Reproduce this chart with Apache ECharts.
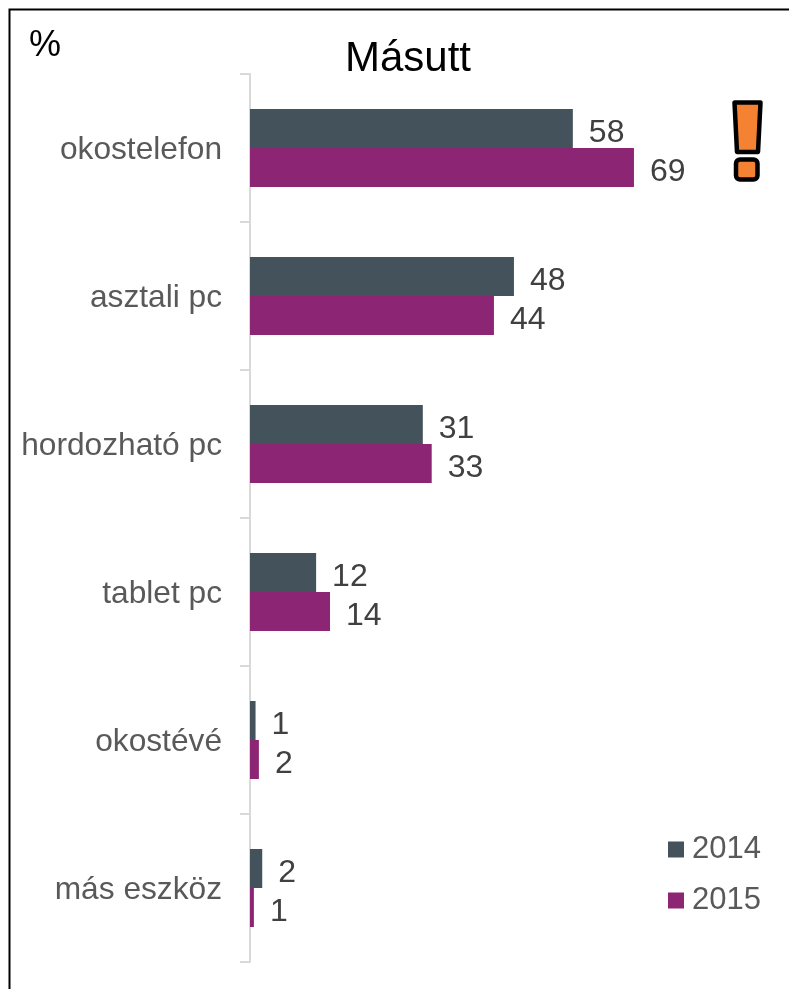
<!DOCTYPE html>
<html>
<head>
<meta charset="utf-8">
<style>
html, body { margin: 0; padding: 0; background: #fff; }
#main { width: 789px; height: 989px; }
</style>
<script src="https://cdn.jsdelivr.net/npm/echarts@6/dist/echarts.min.js"></script>
</head>
<body>
<div id="main"></div>
<script>
// adatok (a feliratok kerekített értéket mutatnak)
var categories = ['okostelefon', 'asztali pc', 'hordozható pc', 'tablet pc', 'okostévé', 'más eszköz'];
var values2014 = [58.1, 47.5, 31.1, 11.9, 1.0, 2.2];
var values2015 = [69.1, 43.9, 32.7, 14.4, 1.6, 0.7];

var chart = echarts.init(document.getElementById('main'));
var fontName = '"Liberation Sans", Arial, sans-serif';

function makeSeries(name, data, color) {
    return {
        name: name,
        type: 'bar',
        data: data,
        barWidth: 39,
        barGap: 0,
        itemStyle: { color: color },
        label: {
            show: true,
            position: 'right',
            distance: 16,
            offset: [0, 5],
            formatter: function (p) { return Math.round(p.value); },
            fontFamily: fontName,
            fontSize: 32,
            color: '#404040'
        }
    };
}

var option = {
    animation: false,
    backgroundColor: '#fff',
    title: {
        text: 'Másutt',
        left: 403,
        top: 33,
        textAlign: 'center',
        textStyle: { fontFamily: fontName, fontSize: 42, fontWeight: 'normal', color: '#000' }
    },
    legend: {
        orient: 'vertical',
        left: 663,
        top: 829,
        itemWidth: 16,
        itemHeight: 16,
        itemGap: 20,
        icon: 'rect',
        textStyle: { fontFamily: fontName, fontSize: 31, color: '#595959', padding: [2, 0, 0, 3] },
        data: ['2014', '2015']
    },
    grid: { left: 250, top: 74, width: 539, height: 888 },
    xAxis: { type: 'value', min: 0, max: 97, show: false },
    yAxis: {
        type: 'category',
        inverse: true,
        data: categories,
        axisLine: { show: true, lineStyle: { color: '#d9d9d9', width: 2 } },
        axisTick: { show: true, length: 10, lineStyle: { color: '#d9d9d9', width: 2 } },
        // verticalAlign top + kis lineHeight: a felirat 2 px-lel a sáv közepe alatt
        axisLabel: { fontFamily: fontName, fontSize: 31.7, color: '#595959', margin: 28, verticalAlign: 'top', lineHeight: 4 }
    },
    series: [
        makeSeries('2014', values2014, '#44525c'),
        makeSeries('2015', values2015, '#8c2574')
    ],
    graphic: [
        // keret
        { type: 'polyline', shape: { points: [[9.5, 989], [9.5, 9.5], [789, 9.5]] }, style: { fill: null, stroke: '#000', lineWidth: 2 } },
        { type: 'text', left: 29, top: 28, style: { text: '%', fontFamily: fontName, fontSize: 36, fill: '#000' } },
        // felkiáltójel
        { type: 'polygon', shape: { points: [[734.5, 102.5], [760.5, 102.5], [758, 152], [737, 152]] }, style: { fill: '#f58233', stroke: '#000', lineWidth: 4.5, lineJoin: 'round' } },
        { type: 'rect', shape: { x: 736, y: 159.5, width: 21.5, height: 20, r: 4 }, style: { fill: '#f58233', stroke: '#000', lineWidth: 4.5 } }
    ]
};

chart.setOption(option);
</script>
</body>
</html>
